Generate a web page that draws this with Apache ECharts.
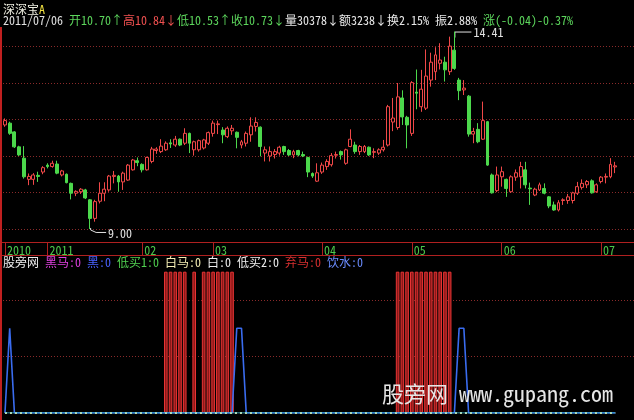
<!DOCTYPE html>
<html><head><meta charset="utf-8">
<script src="https://cdn.jsdelivr.net/npm/echarts/dist/echarts.min.js"></script>
<style>html,body{margin:0;padding:0;background:#000;overflow:hidden}#c{width:634px;height:420px}</style>
</head><body><div id="c"></div>
<script>
// ---------- data ----------
const openP = [
11.85,11.90,11.66,11.25,10.94,10.36,10.36,10.47,10.56,10.75,
10.71,10.78,10.48,10.50,10.25,9.98,10.02,10.07,9.80,9.29,
9.76,9.98,10.07,10.44,10.45,10.29,10.34,10.62,10.87,10.77,
10.62,10.85,11.15,11.12,11.17,11.36,11.30,11.46,11.35,11.62,
11.17,11.17,11.22,11.35,11.62,11.86,11.71,11.53,11.69,11.65,
11.30,11.35,11.58,11.81,11.79,11.08,11.00,11.04,11.08,11.26,
11.15,11.03,11.15,11.04,10.96,10.52,10.31,10.56,10.71,10.76,
11.02,11.12,10.80,11.26,11.30,11.12,11.12,11.24,11.10,11.08,
11.17,11.30,11.93,11.78,12.59,12.06,11.62,12.75,12.35,12.31,
13.08,13.31,13.54,13.57,13.31,13.90,13.08,12.81,12.64,11.60,
11.73,11.46,11.94,10.48,10.05,10.43,10.36,10.02,10.42,10.43,
10.62,10.12,9.93,10.07,10.11,9.88,9.66,9.52,9.78,9.78,
9.78,9.98,10.14,10.21,10.32,10.02,10.30,10.42,10.43,10.70];
const closeP = [
11.97,11.62,11.25,11.03,10.43,10.44,10.48,10.44,10.68,10.71,
10.80,10.53,10.59,10.27,9.98,10.03,10.09,9.85,9.29,9.75,
9.98,10.09,10.45,10.47,10.29,10.53,10.75,10.89,10.82,10.62,
10.96,11.19,11.19,11.27,11.35,11.33,11.46,11.30,11.62,11.35,
11.39,11.42,11.44,11.64,11.90,11.88,11.58,11.76,11.76,11.51,
11.39,11.62,11.82,11.92,11.26,11.17,11.12,11.12,11.24,11.12,
11.03,11.12,11.03,11.00,10.56,10.45,10.54,10.75,10.85,11.01,
11.04,11.03,11.17,11.46,11.12,11.26,11.26,11.03,11.12,11.17,
11.24,12.35,12.04,12.62,12.07,11.85,13.01,12.72,12.83,13.19,
13.57,13.77,13.63,13.36,14.01,13.40,12.79,12.86,11.60,11.67,
11.39,11.97,10.75,9.99,10.48,10.57,10.11,10.43,10.54,10.71,
10.21,10.10,10.09,10.21,9.98,9.63,9.52,9.72,9.80,9.88,
9.99,10.16,10.25,10.30,9.99,10.21,10.42,10.44,10.77,10.73];
const lowP = [
11.80,11.58,11.22,11.00,10.38,10.20,10.21,10.29,10.50,10.66,
10.68,10.50,10.44,10.25,9.81,9.90,9.96,9.82,9.00,9.20,
9.70,9.76,10.02,10.25,10.02,10.07,10.32,10.60,10.72,10.55,
10.60,10.80,11.06,11.08,11.14,11.22,11.25,11.27,11.30,11.08,
11.01,11.12,11.18,11.30,11.53,11.60,11.35,11.49,11.58,11.21,
11.21,11.26,11.39,11.67,10.99,10.85,10.85,10.93,11.01,11.03,
11.00,10.94,10.99,10.97,10.42,10.40,10.29,10.51,10.62,10.71,
10.93,10.90,10.76,11.24,11.06,11.03,11.08,11.00,10.94,11.03,
11.12,11.26,11.68,11.72,11.85,11.21,11.55,12.28,12.21,12.26,
12.90,13.08,13.37,13.04,13.22,13.36,12.53,12.67,11.53,11.35,
11.35,11.44,10.73,9.97,10.01,10.16,9.88,9.99,10.32,10.11,
10.11,9.66,9.90,10.04,9.95,9.57,9.50,9.48,9.66,9.69,
9.70,9.93,10.08,10.12,9.97,9.99,10.25,10.25,10.39,10.53];
const highP = [
12.03,11.94,11.68,11.28,11.27,10.52,10.53,10.57,10.72,10.80,
10.87,10.87,10.62,10.52,10.27,10.06,10.12,10.10,9.82,9.80,
10.28,10.28,10.48,10.59,10.48,10.57,10.78,10.92,10.96,10.80,
10.98,11.25,11.24,11.46,11.40,11.46,11.55,11.48,11.76,11.64,
11.42,11.45,11.47,11.67,11.97,11.97,11.79,11.81,11.85,11.67,
11.44,11.67,12.06,12.06,11.81,11.26,11.26,11.19,11.28,11.28,
11.19,11.17,11.17,11.12,10.98,10.55,10.80,10.82,10.91,11.08,
11.12,11.15,11.20,11.73,11.39,11.30,11.30,11.26,11.21,11.21,
11.44,12.40,12.59,13.00,12.80,12.10,13.05,13.37,13.36,13.92,
13.83,13.98,14.09,13.72,14.27,14.41,13.14,13.08,12.67,11.77,
11.90,12.49,11.96,10.52,10.71,10.71,10.38,10.47,10.63,10.84,
10.84,10.27,10.13,10.27,10.25,9.90,9.75,9.79,9.84,9.96,
10.02,10.29,10.36,10.34,10.36,10.25,10.45,10.52,10.94,10.84];

// month ticks on the date axis
const monthTickIdx  = [0, 9, 29, 44, 67, 86, 105, 126];
const monthTickText = ['2010','2011','02','03','04','05','06','07'];
// price grid levels
const priceLevels = [9, 10, 11, 12, 13, 14];
const indLevels = [1, 2];

// lower indicator panel
const redBars = [
'-','-','-','-','-','-','-','-','-','-',
'-','-','-','-','-','-','-','-','-','-',
'-','-','-','-','-','-','-','-','-','-',
'-','-','-','-',2.5,2.5,2.5,2.5,2.5,'-',
2.5,'-',2.5,2.5,2.5,2.5,2.5,2.5,2.5,'-',
'-','-','-','-','-','-','-','-','-','-',
'-','-','-','-','-','-','-','-','-','-',
'-','-','-','-','-','-','-','-','-','-',
'-','-','-',2.5,2.5,2.5,2.5,2.5,2.5,2.5,
2.5,2.5,2.5,2.5,2.5,'-','-','-','-','-',
'-','-','-','-','-','-','-','-','-','-',
'-','-','-','-','-','-','-','-','-','-',
'-','-','-','-','-','-','-','-','-','-'];
const blueLine = [
0,1.5,0,0,0,0,0,0,0,0,
0,0,0,0,0,0,0,0,0,0,
0,0,0,0,0,0,0,0,0,0,
0,0,0,0,0,0,0,0,0,0,
0,0,0,0,0,0,0,0,0,1.5,
1.5,0,0,0,0,0,0,0,0,0,
0,0,0,0,0,0,0,0,0,0,
0,0,0,0,0,0,0,0,0,0,
0,0,0,0,0,0,0,0,0,0,
0,0,0,0,0,0,1.5,1.5,0,0,
0,0,0,0,0,0,0,0,0,0,
0,0,0,0,0,0,0,0,0,0,
0,0,0,0,0,0,0,0,0,0];
const zeroLine = [
0,0,0,0,0,0,0,0,0,0, 0,0,0,0,0,0,0,0,0,0,
0,0,0,0,0,0,0,0,0,0, 0,0,0,0,0,0,0,0,0,0,
0,0,0,0,0,0,0,0,0,0, 0,0,0,0,0,0,0,0,0,0,
0,0,0,0,0,0,0,0,0,0, 0,0,0,0,0,0,0,0,0,0,
0,0,0,0,0,0,0,0,0,0, 0,0,0,0,0,0,0,0,0,0,
0,0,0,0,0,0,0,0,0,0, 0,0,0,0,0,0,0,0,0,0,
0,0,0,0,0,0,0,0,0,0];

// quote header
const quoteName = '深深宝';
const quoteDate = '2011/07/06';
const quoteVol = '30378';
const quoteAmt = '3238';
const quoteTurn = '2.15%';

// ---------- chart ----------
const FONT = '"Noto Sans Mono CJK SC","Noto Sans CJK SC","DejaVu Sans Mono",monospace';
const RED = '#F04848', GREEN = '#4CD84C', GRID = '#8a2a2a', AXRED = '#B02020';
const N = openP.length;
const cats = openP.map((_, i) => String(i));
const candles = openP.map((o, i) => [o, closeP[i], lowP[i], highP[i]]);
const isTick = (i) => monthTickIdx.indexOf(i) >= 0;

const chart = echarts.init(document.getElementById('c'), null, {width: 634, height: 420});
chart.setOption({
  backgroundColor: '#000',
  animation: false,
  grid: [
    {left: 2.6, width: 615, top: 28.25, height: 214.6},
    {left: 2.6, width: 615, top: 271.7, height: 141.3}
  ],
  xAxis: [
    {type: 'category', gridIndex: 0, data: cats,
     axisLine: {show: false},
     axisTick: {show: true, alignWithLabel: true, length: 13, interval: (i) => isTick(i),
                lineStyle: {color: AXRED, width: 1}},
     axisLabel: {show: true, interval: (i) => isTick(i), align: 'left', margin: 2,
                 padding: [0, 0, 0, 2], color: '#4CC84C', fontSize: 12, fontFamily: FONT,
                 formatter: (v, i) => monthTickText[monthTickIdx.indexOf(i)] || ''},
     splitLine: {show: false}},
    {type: 'category', gridIndex: 1, data: cats, show: false}
  ],
  yAxis: [
    {type: 'value', gridIndex: 0, min: 8.62, max: 14.5, show: false, splitLine: {show: false}},
    {type: 'value', gridIndex: 1, min: 0, max: 2.5, show: false, splitLine: {show: false}}
  ],
  series: [
    {type: 'candlestick', xAxisIndex: 0, yAxisIndex: 0, data: candles, barWidth: 3.4,
     itemStyle: {color: '#000', color0: GREEN, borderColor: RED, borderColor0: GREEN, borderWidth: 1}},
    {type: 'bar', xAxisIndex: 1, yAxisIndex: 1, data: redBars, barWidth: 3.6,
     itemStyle: {color: '#8c1818', borderColor: '#E83434', borderWidth: 1}},
    {type: 'line', xAxisIndex: 1, yAxisIndex: 1, data: blueLine, symbol: 'none',
     lineStyle: {color: '#3A6CF0', width: 1.6}, z: 3},
    {type: 'line', xAxisIndex: 1, yAxisIndex: 1, data: zeroLine, symbol: 'none',
     lineStyle: {color: '#E8E8A0', width: 2, type: [2, 3]}, z: 4},
    {type: 'line', xAxisIndex: 1, yAxisIndex: 1, data: zeroLine, symbol: 'none',
     lineStyle: {color: '#40C8E8', width: 1}, z: 5}
  ]
});

// ---------- overlay graphics (positions from the chart's own scales) ----------
const g = [];
const yP = (v) => chart.convertToPixel({yAxisIndex: 0}, v);
const yI = (v) => chart.convertToPixel({yAxisIndex: 1}, v);
const pt = (i, v) => chart.convertToPixel({seriesIndex: 0}, [i, v]);
const hline = (y, x1, x2, stroke, dash, w) => g.push({type: 'line', silent: true, z: -1,
  shape: {x1: x1, y1: Math.round(y) + 0.5, x2: x2, y2: Math.round(y) + 0.5},
  style: {stroke: stroke, lineWidth: w || 1, lineDash: dash || null}});

priceLevels.forEach(v => hline(yP(v), 3, 634, GRID, [1, 2]));
indLevels.forEach(v => hline(yI(v), 3, 634, GRID, [1, 2]));
// axis band lines
hline(yP(8.62) - 0.5, 2, 634, AXRED);
hline(yP(8.62) + 12.5, 2, 634, AXRED);
// left border
g.push({type: 'line', silent: true, shape: {x1: 1, y1: 27, x2: 1, y2: 420}, style: {stroke: '#C02020', lineWidth: 2}});

// high / low annotations
let hi = 0, lo = 0;
highP.forEach((v, i) => { if (v > highP[hi]) hi = i; });
lowP.forEach((v, i) => { if (v < lowP[lo]) lo = i; });
const ph = pt(hi, highP[hi]);
g.push({type: 'polyline', silent: true, shape: {points: [[ph[0] + 0.5, ph[1] + 6], [ph[0] + 0.5, ph[1] + 0.5], [ph[0] + 17, ph[1] + 0.5]]},
  style: {stroke: '#E0E0E0', lineWidth: 1, fill: null}});
g.push({type: 'text', silent: true, x: ph[0] + 19, y: ph[1] + 0.5,
  style: {text: highP[hi].toFixed(2), fill: '#E0E0E0', font: '12px ' + FONT, verticalAlign: 'middle'}});
const pl = pt(lo, lowP[lo]);
g.push({type: 'polyline', silent: true, shape: {points: [[pl[0] + 0.5, pl[1] - 1], [pl[0] + 0.5, pl[1] + 1], [pl[0] + 6, pl[1] + 3.5], [pl[0] + 16, pl[1] + 3.5]]},
  style: {stroke: '#E0E0E0', lineWidth: 1, fill: null}});
g.push({type: 'text', silent: true, x: pl[0] + 18, y: pl[1] + 4,
  style: {text: lowP[lo].toFixed(2), fill: '#E0E0E0', font: '12px ' + FONT, verticalAlign: 'middle'}});

// header texts
const L = N - 1;
const prev = closeP[L - 1];
const chg = closeP[L] - prev;
const pct = chg / prev * 100;
const amp = (highP[L] - lowP[L]) / prev * 100;
const rs = (c) => ({fill: c, fontSize: 12, fontFamily: FONT});
g.push({type: 'text', silent: true, x: 3, y: 9,
  style: {text: '{w|' + quoteName + '}{y|A}', verticalAlign: 'middle', font: '12px ' + FONT,
          rich: {w: rs('#EDEDE0'), y: rs('#F0E040')}}});
g.push({type: 'text', silent: true, x: 3, y: 20.5,
  style: {text: '{d|' + quoteDate + ' }{g|开' + openP[L].toFixed(2) + '↑}{r|高' + highP[L].toFixed(2) + '↓}{g|低' + lowP[L].toFixed(2) + '↑收' + closeP[L].toFixed(2) + '↓}{w|量' + quoteVol + '↓额' + quoteAmt + '↓换' + quoteTurn + ' 振' + amp.toFixed(2) + '% }{g|涨(' + chg.toFixed(2) + ')' + pct.toFixed(2) + '%}',
          verticalAlign: 'middle', font: '12px ' + FONT,
          rich: {d: rs('#E0E0E0'), g: rs('#5CD65C'), r: rs('#F05050'), w: rs('#E8E8E8')}}});
// indicator legend
g.push({type: 'text', silent: true, x: 3, y: 262.5,
  style: {text: '{w|股旁网 }{m|黑马:0 }{b|黑:0 }{g|低买1:0 }{y|白马:0 }{w|白:0 低买2:0 }{r|弃马:0 }{l|饮水:0}',
          verticalAlign: 'middle', font: '12px ' + FONT,
          rich: {w: rs('#EEEEEE'), m: rs('#E040E0'), b: rs('#4A62FF'), g: rs('#50D050'), y: rs('#F4EEB4'), r: rs('#D83030'), l: rs('#6A8CFF')}}});
// watermark
g.push({type: 'text', silent: true, x: 382, y: 394, z: 10,
  style: {text: '股旁网 www.gupang.com', fill: '#E6E6E6', font: '22px ' + FONT, verticalAlign: 'middle'}});

chart.setOption({graphic: g});
</script>
</body></html>
